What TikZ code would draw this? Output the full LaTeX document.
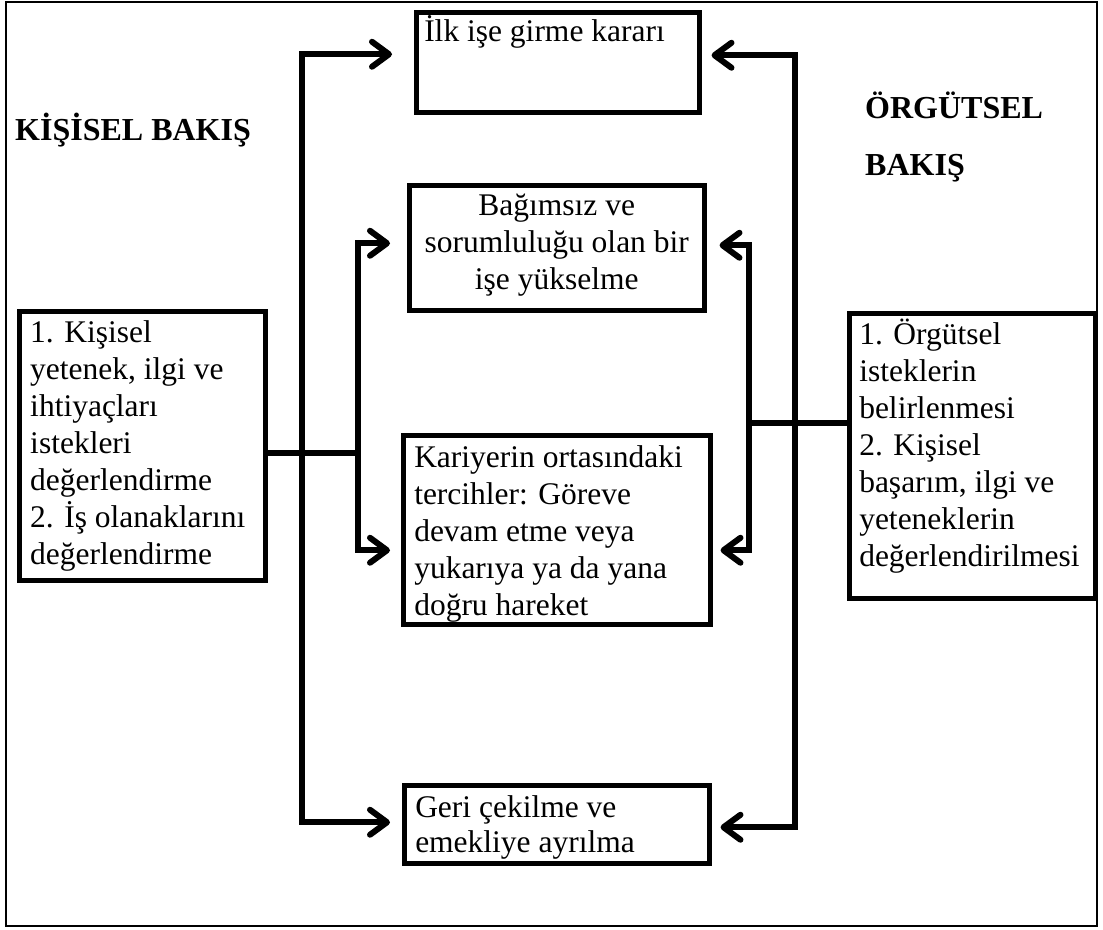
\documentclass[tikz,border=0pt]{standalone}
\usepackage{fontspec}
\setmainfont{Liberation Serif}
\usetikzlibrary{arrows.meta,calc}
\hyphenpenalty=10000
\exhyphenpenalty=10000
% #1 height, #2 width, #3 first-baseline depth, #4 alignment, #5 text
\newcommand{\bxt}[5]{\parbox[b][#1][t]{#2}{#4\rule{0pt}{#3}#5}}
\tikzset{
  box/.style={draw, line width=4.5pt, inner xsep=10pt, inner ysep=0pt, anchor=north west,
              font=\fontsize{31.5}{37}\selectfont},
  head/.style={inner sep=0pt, anchor=base west, font=\fontsize{32}{38}\bfseries\selectfont},
  conn/.style={line width=6pt, line join=miter},
  tip/.tip={Straight Barb[length=17pt,width=25pt,round]},
  arrs/.style={conn, tip-tip}
}
\begin{document}
\begin{tikzpicture}[x=1pt,y=-1pt]
\useasboundingbox (0,0) rectangle (1103,929);
\draw[line width=2.5pt] (6,2) rectangle (1097,926);

% boxes
\node[box, inner xsep=8pt] (b1) at (414,10)
  {\bxt{100pt}{267pt}{29pt}{\raggedright}{\mbox{İlk işe girme kararı}}};
\node[box] (b2) at (407,183)
  {\bxt{125pt}{275pt}{30pt}{\centering}{\mbox{Bağımsız ve}\\\mbox{sorumluluğu olan bir}\\\mbox{işe yükselme}}};
\node[box, inner xsep=11pt] (b3) at (401,433)
  {\bxt{189pt}{285pt}{32pt}{\raggedright}{\mbox{Kariyerin ortasındaki}\\\mbox{tercihler: Göreve}\\\mbox{devam etme veya}\\\mbox{yukarıya ya da yana}\\\mbox{doğru hareket}}};
\node[box, inner xsep=11pt] (b4) at (402,783)
  {\bxt{78pt}{283pt}{32pt}{\raggedright}{\baselineskip=35pt\mbox{Geri çekilme ve}\\\mbox{emekliye ayrılma}}};
\node[box, inner xsep=11pt] (L) at (17,309)
  {\bxt{269pt}{224pt}{31pt}{\raggedright}{\mbox{1. Kişisel}\\\mbox{yetenek, ilgi ve}\\\mbox{ihtiyaçları}\\\mbox{istekleri}\\\mbox{değerlendirme}\\\mbox{2. İş olanaklarını}\\\mbox{değerlendirme}}};
\node[box, inner xsep=10pt] (R) at (847,311)
  {\bxt{285pt}{226pt}{31pt}{\raggedright}{\mbox{1. Örgütsel}\\\mbox{isteklerin}\\\mbox{belirlenmesi}\\\mbox{2. Kişisel}\\\mbox{başarım, ilgi ve}\\\mbox{yeteneklerin}\\\mbox{değerlendirilmesi}}};

% headings
\node[head] (hk) at (15,140) {KİŞİSEL BAKIŞ};
\node[head] (ho1) at (865,118) {ÖRGÜTSEL};
\node[head] (ho2) at (865,175) {BAKIŞ};

% junction coordinates
\coordinate (jl) at (358,453);
\coordinate (xl) at (302,453);
\coordinate (jr) at (749,423);
\coordinate (xr) at (795,423);

% left side
\draw[conn] (L.east |- jl) -- (jl);
\draw[arrs] ([xshift=-17pt,yshift=4.5pt]b2.west) -| (jl) |- ([xshift=-11pt,yshift=-20.5pt]b3.west);
\draw[arrs] ([xshift=-22pt,yshift=8pt]b1.west) -| (xl) |- ([xshift=-12pt,yshift=2pt]b4.west);

% right side
\draw[conn] (R.west |- jr) -- (jr);
\draw[arrs] ([xshift=13pt,yshift=2.5pt]b2.east) -| (jr) |- ([xshift=8pt,yshift=-20.5pt]b3.east);
\draw[arrs] ([xshift=10pt,yshift=7pt]b1.east) -| (xr) |- ([xshift=9pt,yshift=-3pt]b4.east);
\end{tikzpicture}
\end{document}
